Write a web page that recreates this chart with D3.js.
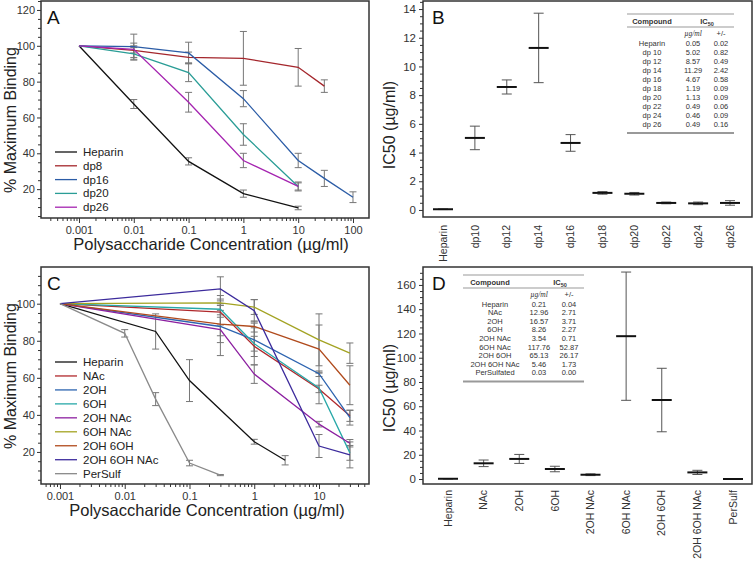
<!DOCTYPE html>
<html>
<head>
<meta charset="utf-8">
<script src="https://cdn.jsdelivr.net/npm/d3@7"></script>
<style>
body { margin: 0; background: #fff; }
svg { display: block; font-family: "Liberation Sans", Arial, sans-serif; }
</style>
</head>
<body>
<svg id="fig" width="753" height="561"></svg>
<script>
// ---- panel A: binding curves, chain length ----
const namesA = ["Heparin", "dp8", "dp16", "dp20", "dp26"];
const concA = [
    [0.001, 0.01, 0.1, 1, 10],
    [0.001, 0.01, 0.1, 1, 10, 30],
    [0.001, 0.01, 0.1, 1, 10, 30, 100],
    [0.001, 0.01, 0.1, 1, 10],
    [0.001, 0.01, 0.1, 1, 10]
];
const meanA = [
    [100, 67.5, 35.5, 17.5, 9.5],
    [100, 97.5, 93.5, 93, 88, 77.5],
    [100, 99.5, 96, 70.5, 36, 26, 15.5],
    [100, 95.5, 85, 50.5, 21.5],
    [100, 98, 68.5, 36, 21.5]
];
const errA = [
    [0, 2.5, 2, 2, 1],
    [0, 4, 3, 15, 10.5, 3.5],
    [0, 7, 6, 4.5, 4, 4.5, 3],
    [0, 3.5, 5, 6, 2.5],
    [0, 2, 5.5, 4, 2]
];
const colorsA = ["#111", "#a4262c", "#2b5ca6", "#2a9d96", "#a524b0"];

// ---- panel B: IC50 by chain length ----
const namesB = ["Heparin", "dp10", "dp12", "dp14", "dp16", "dp18", "dp20", "dp22", "dp24", "dp26"];
const tableNamesB = ["Heparin", "dp 10", "dp 12", "dp 14", "dp 16", "dp 18", "dp 20", "dp 22", "dp 24", "dp 26"];
const meanB = [0.05, 5.02, 8.57, 11.29, 4.67, 1.19, 1.13, 0.49, 0.46, 0.49];
const errB = [0.02, 0.82, 0.49, 2.42, 0.58, 0.09, 0.09, 0.06, 0.09, 0.16];

// ---- panel C: binding curves, modified heparins ----
const namesC = ["Heparin", "NAc", "2OH", "6OH", "2OH NAc", "6OH NAc", "2OH 6OH", "2OH 6OH NAc", "PerSulf"];
const concC = [
    [0.001, 0.03, 0.1, 1, 3],
    [0.001, 0.3, 1, 10, 30],
    [0.001, 0.3, 1, 10, 30],
    [0.001, 0.3, 1, 10, 30],
    [0.001, 0.3, 1, 10, 30],
    [0.001, 0.3, 1, 10, 30],
    [0.001, 0.3, 1, 10, 30],
    [0.001, 0.3, 1, 10, 30],
    [0.001, 0.01, 0.03, 0.1, 0.3]
];
const meanC = [
    [100, 85, 58.5, 25.5, 15.5],
    [100, 95.5, 77, 54, 39.5],
    [100, 87.7, 80.5, 62.2, 38.5],
    [100, 97, 78.4, 54.5, 19.5],
    [100, 86, 62, 35, 24.7],
    [100, 100.4, 98.2, 80.5, 73.3],
    [100, 89, 87.7, 75.5, 56],
    [100, 108, 96.2, 23.2, 18.4],
    [100, 84, 48.5, 14, 7.5]
];
const errC = [
    [0, 9.5, 11.3, 1.3, 2.5],
    [0, 7, 10, 2, 3],
    [0, 5, 9, 1.5, 4],
    [0, 3, 4, 8.5, 4],
    [0, 14, 5, 1.5, 2],
    [0, 4, 4, 14, 5.5],
    [0, 10, 3, 13, 10.5],
    [0, 6.5, 6, 6.2, 7],
    [0, 2, 3.5, 1.5, 0.3]
];
const colorsC = ["#111", "#b0282c", "#2d64b0", "#28a8a8", "#8c1fa0", "#a3a322", "#b04a1c", "#3c2b9c", "#8a8a8a"];

// ---- panel D: IC50 of modified heparins ----
const namesD = ["Heparin", "NAc", "2OH", "6OH", "2OH NAc", "6OH NAc", "2OH 6OH", "2OH 6OH NAc", "PerSulf"];
const tableNamesD = ["Heparin", "NAc", "2OH", "6OH", "2OH NAc", "6OH NAc", "2OH 6OH", "2OH 6OH NAc", "PerSulfated"];
const meanD = [0.21, 12.96, 16.57, 8.26, 3.54, 117.76, 65.13, 5.46, 0.03];
const errD = [0.04, 2.71, 3.71, 2.27, 0.71, 52.87, 26.17, 1.73, 0.00];

const svg = d3.select("#fig");
const fmt2 = d3.format(".2f");

function styleAxis(sel, fontSize) {
    sel.select(".domain").remove();
    sel.selectAll(".tick line").attr("stroke", "#333");
    sel.selectAll(".tick text")
        .attr("fill", "#333")
        .attr("font-size", fontSize)
        .attr("font-family", "Liberation Sans, Arial, sans-serif");
}

function yTicks(lo, hi, step, minorStep) {
    const major = [], minor = [];
    for (let v = Math.ceil(lo / minorStep) * minorStep; v <= hi + 1e-9; v += minorStep) {
        const r = Math.round(v * 1000) / 1000;
        if (Math.abs(r / step - Math.round(r / step)) < 1e-6) major.push(r);
        else minor.push(r);
    }
    return [major, minor];
}

function drawCurves(cfg) {
    const { frame, xDomain, yDomain, names, conc, mean, err, colors } = cfg;
    const g = svg.append("g");
    const x = d3.scaleLog().domain(xDomain).range([frame.x0, frame.x1]);
    const y = d3.scaleLinear().domain(yDomain).range([frame.y1, frame.y0]);

    // decade ticks + 2..9 minor ticks
    const major = [], minor = [];
    const [lo, hi] = xDomain;
    for (let e = Math.floor(Math.log10(lo)); e <= Math.ceil(Math.log10(hi)); e++) {
        for (let k = 1; k <= 9; k++) {
            const v = +(k * Math.pow(10, e)).toPrecision(6);
            if (v < lo || v > hi) continue;
            (k === 1 ? major : minor).push(v);
        }
    }
    g.append("g")
        .attr("transform", `translate(0,${frame.y1})`)
        .call(d3.axisBottom(x).tickValues(minor).tickSize(3).tickFormat(""))
        .call(styleAxis, 11);
    g.append("g")
        .attr("transform", `translate(0,${frame.y1})`)
        .call(d3.axisBottom(x).tickValues(major).tickSize(5).tickPadding(3).tickFormat(d3.format("~g")))
        .call(styleAxis, 11);

    const [yMaj, yMin] = yTicks(yDomain[0], yDomain[1], 20, 5);
    g.append("g")
        .attr("transform", `translate(${frame.x0},0)`)
        .call(d3.axisLeft(y).tickValues(yMin).tickSize(3).tickFormat(""))
        .call(styleAxis, 11);
    g.append("g")
        .attr("transform", `translate(${frame.x0},0)`)
        .call(d3.axisLeft(y).tickValues(yMaj).tickSize(4).tickPadding(2))
        .call(styleAxis, 11);

    // error bars
    names.forEach((name, i) => {
        const pts = conc[i].map((c, j) => ({ c, m: mean[i][j], e: err[i][j] })).filter(d => d.e > 0);
        const eb = g.append("g").attr("stroke", "#777").attr("stroke-width", 1);
        eb.selectAll(".stem").data(pts).enter().append("line")
            .attr("x1", d => x(d.c)).attr("x2", d => x(d.c))
            .attr("y1", d => y(d.m - d.e)).attr("y2", d => y(d.m + d.e));
        eb.selectAll(".capt").data(pts).enter().append("line")
            .attr("x1", d => x(d.c) - 3.5).attr("x2", d => x(d.c) + 3.5)
            .attr("y1", d => y(d.m + d.e)).attr("y2", d => y(d.m + d.e));
        eb.selectAll(".capb").data(pts).enter().append("line")
            .attr("x1", d => x(d.c) - 3.5).attr("x2", d => x(d.c) + 3.5)
            .attr("y1", d => y(d.m - d.e)).attr("y2", d => y(d.m - d.e));
    });

    // curves
    const line = d3.line().x(d => x(d[0])).y(d => y(d[1]));
    names.forEach((name, i) => {
        g.append("path")
            .datum(conc[i].map((c, j) => [c, mean[i][j]]))
            .attr("d", line)
            .attr("fill", "none")
            .attr("stroke", colors[i])
            .attr("stroke-width", 1.3);
    });

    g.append("rect")
        .attr("x", frame.x0).attr("y", frame.y0)
        .attr("width", frame.x1 - frame.x0).attr("height", frame.y1 - frame.y0)
        .attr("fill", "none").attr("stroke", "#333").attr("stroke-width", 1.5);

    // legend
    const lg = g.append("g").attr("transform", `translate(${cfg.legend[0]},${cfg.legend[1]})`);
    names.forEach((name, i) => {
        const row = lg.append("g").attr("transform", `translate(0,${i * cfg.legendStep})`);
        row.append("line").attr("x1", 0).attr("x2", 22)
            .attr("stroke", colors[i]).attr("stroke-width", 1.3);
        row.append("text").attr("x", 28).attr("dy", "0.35em")
            .attr("font-size", 11.5).attr("fill", "#222").text(name);
    });

    g.append("text")
        .attr("x", frame.x0 + 6).attr("y", frame.y0 + 23)
        .attr("font-size", 19).attr("fill", "#111").text(cfg.letter);
    g.append("text")
        .attr("transform", `translate(${cfg.yLabelPos[0]},${cfg.yLabelPos[1]}) rotate(-90)`)
        .attr("text-anchor", "middle").attr("font-size", 16).attr("fill", "#222")
        .text("% Maximum Binding");
    g.append("text")
        .attr("x", cfg.xLabelPos[0]).attr("y", cfg.xLabelPos[1])
        .attr("text-anchor", "middle").attr("font-size", 16.5).attr("fill", "#222")
        .text("Polysaccharide Concentration (\u00b5g/ml)");
}

function drawIC50(cfg) {
    const { frame, yDomain, names, mean, err } = cfg;
    const g = svg.append("g");
    const x = d3.scalePoint().domain(names).range(cfg.xRange);
    const y = d3.scaleLinear().domain(yDomain).range([frame.y1, frame.y0]);

    const [yMaj, yMin] = yTicks(Math.max(0, yDomain[0]), yDomain[1], cfg.yStep, cfg.yMinor);
    g.append("g")
        .attr("transform", `translate(${frame.x0},0)`)
        .call(d3.axisLeft(y).tickValues(yMin).tickSize(3).tickFormat(""))
        .call(styleAxis, 11);
    g.append("g")
        .attr("transform", `translate(${frame.x0},0)`)
        .call(d3.axisLeft(y).tickValues(yMaj).tickSize(4).tickPadding(3))
        .call(styleAxis, 11.5);

    const pts = names.map((n, i) => ({ n, m: mean[i], e: err[i] }));
    const eb = g.append("g").attr("stroke", "#555").attr("stroke-width", 1);
    eb.selectAll(".stem").data(pts).enter().append("line")
        .attr("x1", d => x(d.n)).attr("x2", d => x(d.n))
        .attr("y1", d => y(d.m - d.e)).attr("y2", d => y(d.m + d.e));
    ["+", "-"].forEach(s => {
        eb.selectAll(".cap" + (s === "+" ? "t" : "b")).data(pts.filter(d => d.e > 0)).enter().append("line")
            .attr("x1", d => x(d.n) - 5).attr("x2", d => x(d.n) + 5)
            .attr("y1", d => y(s === "+" ? d.m + d.e : d.m - d.e))
            .attr("y2", d => y(s === "+" ? d.m + d.e : d.m - d.e));
    });
    g.selectAll(".mean").data(pts).enter().append("line")
        .attr("x1", d => x(d.n) - 10).attr("x2", d => x(d.n) + 10)
        .attr("y1", d => y(d.m)).attr("y2", d => y(d.m))
        .attr("stroke", "#111").attr("stroke-width", 2);

    g.append("rect")
        .attr("x", frame.x0).attr("y", frame.y0)
        .attr("width", frame.x1 - frame.x0).attr("height", frame.y1 - frame.y0)
        .attr("fill", "none").attr("stroke", "#333").attr("stroke-width", 1.5);

    // category labels, vertical
    g.selectAll(".cat").data(names).enter().append("text")
        .attr("transform", d => `translate(${x(d)},${cfg.labelTop}) rotate(-90)`)
        .attr("text-anchor", "end").attr("dy", "0.35em")
        .attr("font-size", 10.5).attr("fill", "#333")
        .text(d => d);

    g.append("text")
        .attr("x", frame.x0 + 9).attr("y", frame.y0 + 23)
        .attr("font-size", 19).attr("fill", "#111").text(cfg.letter);
    g.append("text")
        .attr("transform", `translate(${cfg.yLabelPos[0]},${cfg.yLabelPos[1]}) rotate(-90)`)
        .attr("text-anchor", "middle").attr("font-size", 16).attr("fill", "#222")
        .text("IC50 (\u00b5g/ml)");

    // inset table
    const t = cfg.table;
    const tg = g.append("g").attr("font-size", 7.5).attr("fill", "#333");
    tg.append("line").attr("x1", t.x0).attr("x2", t.x1).attr("y1", t.y0).attr("y2", t.y0)
        .attr("stroke", "#999").attr("stroke-width", 1);
    tg.append("text").attr("x", t.headCols[0]).attr("y", t.y0 + 9.5)
        .attr("text-anchor", "middle").attr("font-weight", "bold").text("Compound");
    const ic = tg.append("text").attr("x", t.headCols[1]).attr("y", t.y0 + 9.5)
        .attr("text-anchor", "middle").attr("font-weight", "bold");
    ic.append("tspan").text("IC");
    ic.append("tspan").attr("font-size", 5.5).attr("dy", 2).text("50");
    tg.append("line").attr("x1", t.x0).attr("x2", t.x1).attr("y1", t.y0 + 13).attr("y2", t.y0 + 13)
        .attr("stroke", "#999").attr("stroke-width", 1);
    tg.append("text").attr("x", t.cols[1]).attr("y", t.y0 + 21.5)
        .attr("text-anchor", "middle").attr("font-style", "italic")
        .attr("font-family", "Liberation Serif, serif").text("\u00b5g/ml");
    tg.append("text").attr("x", t.cols[2]).attr("y", t.y0 + 21.5)
        .attr("text-anchor", "middle").text("+/-");
    const rows = tg.selectAll(".row").data(cfg.tableNames).enter().append("g")
        .attr("transform", (d, i) => `translate(0,${t.rowY + i * t.rowStep})`);
    rows.append("text").attr("x", t.cols[0]).attr("text-anchor", "middle").text(d => d);
    rows.append("text").attr("x", t.cols[1]).attr("text-anchor", "middle").text((d, i) => fmt2(mean[i]));
    rows.append("text").attr("x", t.cols[2]).attr("text-anchor", "middle").text((d, i) => fmt2(err[i]));
    const by = t.rowY + (cfg.tableNames.length - 1) * t.rowStep + 6;
    tg.append("line").attr("x1", t.x0).attr("x2", t.x1).attr("y1", by).attr("y2", by)
        .attr("stroke", "#999").attr("stroke-width", 2);
}

drawCurves({
    frame: { x0: 41, x1: 369, y0: 1, y1: 218 },
    xDomain: [Math.pow(10, -3.693), Math.pow(10, 2.292)],
    yDomain: [3.9, 125],
    names: namesA, conc: concA, mean: meanA, err: errA, colors: colorsA,
    legend: [55, 152], legendStep: 13.8,
    letter: "A", yLabelPos: [16, 120], xLabelPos: [211, 250]
});

drawIC50({
    frame: { x0: 423, x1: 752, y0: 1, y1: 217 },
    yDomain: [-0.49, 14.56], yStep: 2, yMinor: 0.5,
    names: namesB, tableNames: tableNamesB, mean: meanB, err: errB,
    xRange: [443, 730], labelTop: 225,
    letter: "B", yLabelPos: [395, 125],
    table: { x0: 627, x1: 734, y0: 14, headCols: [652, 707], cols: [652, 693, 721], rowY: 45.7, rowStep: 9.03 }
});

drawCurves({
    frame: { x0: 41, x1: 369, y0: 267, y1: 484 },
    xDomain: [Math.pow(10, -3.293), Math.pow(10, 1.772)],
    yDomain: [2.7, 119.8],
    names: namesC, conc: concC, mean: meanC, err: errC, colors: colorsC,
    legend: [55, 362], legendStep: 13.96,
    letter: "C", yLabelPos: [16, 376], xLabelPos: [207, 516]
});

drawIC50({
    frame: { x0: 423, x1: 752, y0: 267, y1: 484 },
    yDomain: [-4.1, 174.8], yStep: 20, yMinor: 5,
    names: namesD, tableNames: tableNamesD, mean: meanD, err: errD,
    xRange: [448, 733], labelTop: 490,
    letter: "D", yLabelPos: [395, 388],
    table: { x0: 463, x1: 584, y0: 275, headCols: [490, 560], cols: [495, 539, 569], rowY: 306.7, rowStep: 8.59 }
});
</script>
</body>
</html>
